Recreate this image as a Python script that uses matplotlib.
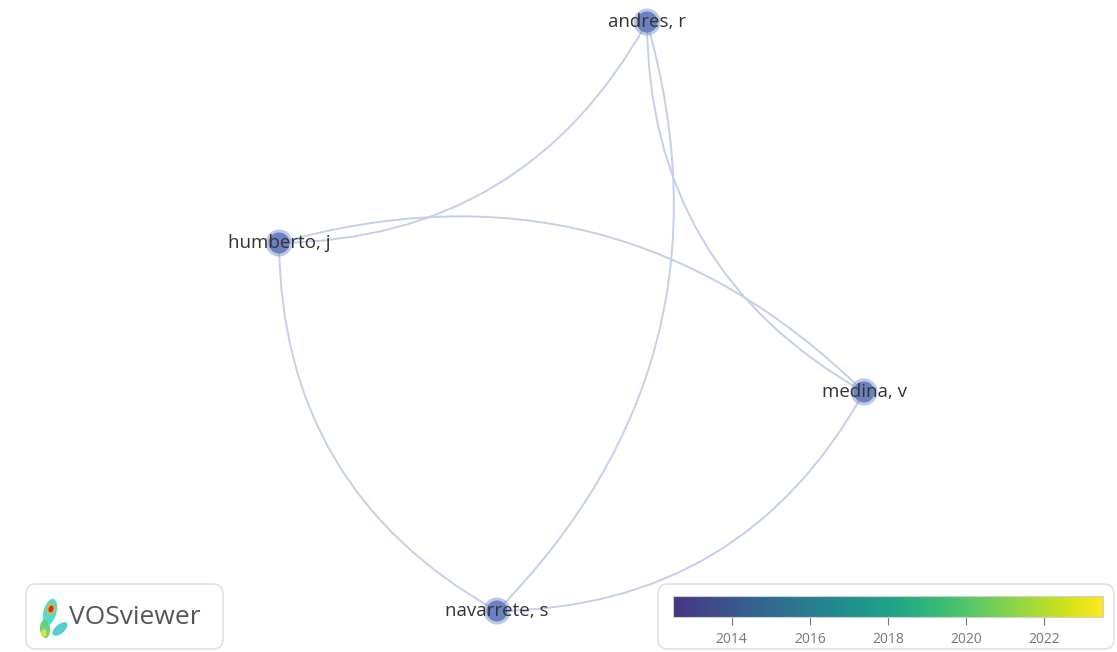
import numpy as np
import matplotlib
matplotlib.use("Agg")
import matplotlib.pyplot as plt
from matplotlib.path import Path
from matplotlib.patches import PathPatch, FancyBboxPatch, Ellipse
import matplotlib as mpl

# ---- data ----
authors = ["andres, r", "humberto, j", "medina, v", "navarrete, s"]
node_x = [647, 279, 864, 497]
node_y = [22, 243, 392, 611]
# links (source, target) - curve bends to the right of source->target
links = [("navarrete, s", "andres, r"),
         ("andres, r", "medina, v"),
         ("medina, v", "humberto, j"),
         ("humberto, j", "navarrete, s"),
         ("navarrete, s", "medina, v"),
         ("humberto, j", "andres, r")]
year_min, year_max = 2012.5, 2023.5
year_ticks = [2014, 2016, 2018, 2020, 2022]

W, H = 1117, 652
fig = plt.figure(figsize=(W / 100, H / 100), dpi=100)
ax = fig.add_axes([0, 0, 1, 1])
ax.set_xlim(0, W)
ax.set_ylim(H, 0)
ax.axis("off")

pos = {a: (x, y) for a, x, y in zip(authors, node_x, node_y)}
bend = 0.29
for s, t in links:
    x1, y1 = pos[s]
    x2, y2 = pos[t]
    dx, dy = x2 - x1, y2 - y1
    cx = (x1 + x2) / 2 - dy * bend
    cy = (y1 + y2) / 2 + dx * bend
    p = Path([(x1, y1), (cx, cy), (x2, y2)], [Path.MOVETO, Path.CURVE3, Path.CURVE3])
    ax.add_patch(PathPatch(p, fill=False, edgecolor="#c5cfe8", lw=1.4, zorder=1))

ax.scatter(node_x, node_y, s=380, color="#7088c6", alpha=0.45, edgecolors="none", zorder=2)
ax.scatter(node_x, node_y, s=230, color="#6a82c2", edgecolors="none", zorder=3)
for a, x, y in zip(authors, node_x, node_y):
    ax.text(x, y, a, ha="center", va="center", fontsize=13.5, color="#333333",
            family="Open Sans", zorder=4)

# VOSviewer logo box
ax.add_patch(FancyBboxPatch((26, 584), 197, 65, boxstyle="round,pad=0,rounding_size=10",
                            fc="white", ec="#e2e2e2", lw=1.2, zorder=5))
ax.text(69, 618, "VOSviewer", ha="left", va="center", fontsize=19, color="#555555",
        family="Open Sans", zorder=6)
# simplified logo heat-map glyph
ax.add_patch(Ellipse((50, 612), 13, 27, angle=15, fc="#40d8c0", ec="none", alpha=0.9, zorder=6))
ax.add_patch(Ellipse((45, 629), 10, 18, angle=-5, fc="#50d070", ec="none", alpha=0.9, zorder=6))
ax.add_patch(Ellipse((60, 629), 18, 9, angle=-40, fc="#40c8c8", ec="none", alpha=0.9, zorder=6))
ax.add_patch(Ellipse((44, 633), 6, 8, angle=0, fc="#d8e040", ec="none", zorder=7))
ax.add_patch(Ellipse((51, 609), 8, 11, angle=15, fc="#f0b030", ec="none", zorder=7))
ax.add_patch(Ellipse((51, 609), 5, 7, angle=15, fc="#d03020", ec="none", zorder=8))

# colorbar box
ax.add_patch(FancyBboxPatch((658, 584), 456, 65, boxstyle="round,pad=0,rounding_size=10",
                            fc="white", ec="#e2e2e2", lw=1.2, zorder=5))
cax = fig.add_axes([673 / W, (H - 617) / H, 430 / W, 21 / H], zorder=10)
base = mpl.colormaps["viridis"]
cmap = mpl.colors.LinearSegmentedColormap.from_list("vos_viridis", base(np.linspace(0.15, 1.0, 256)))
norm = mpl.colors.Normalize(vmin=year_min, vmax=year_max)
cb = mpl.colorbar.ColorbarBase(cax, cmap=cmap, norm=norm, orientation="horizontal")
cb.set_ticks(year_ticks)
cb.ax.tick_params(labelsize=10, colors="#777777", length=6, width=0.8, pad=5)
for lbl in cb.ax.get_xticklabels():
    lbl.set_family("Open Sans")
cb.outline.set_edgecolor("#d0d0d0")
cb.outline.set_linewidth(0.8)

fig.savefig("out.png", dpi=100)
